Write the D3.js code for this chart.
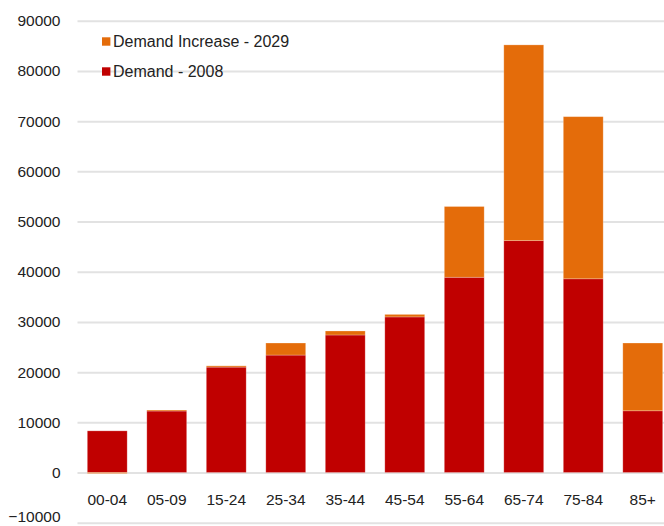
<!DOCTYPE html>
<html>
<head>
<meta charset="utf-8">
<script src="https://cdn.jsdelivr.net/npm/d3@7"></script>
<style>
  html, body { margin: 0; padding: 0; background: #fff; }
  svg { display: block; font-family: "Liberation Sans", Arial, sans-serif; }
</style>
</head>
<body>
<svg id="chart" width="664" height="526"></svg>
<script>
// Age groups along the x axis
const categories = ["00-04", "05-09", "15-24", "25-34", "35-44", "45-54", "55-64", "65-74", "75-84", "85+"];
// Demand in 2008 per age group
const demand2008 = [8300, 12250, 21000, 23400, 27400, 31000, 38900, 46200, 38600, 12300];
// Change in demand by 2029 per age group
const increase2029 = [-200, 200, 250, 2400, 800, 500, 14100, 39000, 32300, 13500];
// Value axis ticks
const yTicks = [-10000, 0, 10000, 20000, 30000, 40000, 50000, 60000, 70000, 80000, 90000];

const seriesNames = ["Demand - 2008", "Demand Increase - 2029"];
const colors = { "Demand - 2008": "#C00000", "Demand Increase - 2029": "#E46C0A" };

const rows = categories.map((c, i) => ({
  cat: c,
  "Demand - 2008": demand2008[i],
  "Demand Increase - 2029": increase2029[i]
}));

const svg = d3.select("#chart");

const y = d3.scaleLinear().domain([-10000, 90000]).range([522.7, 20.8]);
const x = d3.scaleBand().domain(categories).range([77.5, 672.5])
  .paddingInner(0.33).paddingOuter(0.165);

// Horizontal gridlines with tick labels
const yAxis = svg.append("g")
  .attr("transform", "translate(77.5,0)")
  .call(d3.axisLeft(y).tickValues(yTicks).tickFormat(d3.format("d"))
    .tickSize(-600).tickPadding(17));
yAxis.select(".domain").remove();
yAxis.selectAll(".tick line").attr("stroke", "#e2e2e2").attr("stroke-width", 2);
yAxis.selectAll(".tick text")
  .attr("fill", "#222").attr("font-size", "15.5px")
  .attr("font-family", "Liberation Sans, Arial, sans-serif");
// Keep the lowest label inside the bottom edge of the frame
yAxis.selectAll(".tick text").filter(d => d === -10000).attr("y", -6);

// Stacked columns (negative values stack below zero)
const stack = d3.stack().keys(seriesNames).offset(d3.stackOffsetDiverging);
const layers = stack(rows);

svg.append("g").selectAll("g")
  .data(layers)
  .join("g")
  .attr("fill", d => colors[d.key])
  .selectAll("rect")
  .data(d => d)
  .join("rect")
  .attr("x", d => x(d.data.cat))
  .attr("width", x.bandwidth())
  .attr("y", d => y(Math.max(d[0], d[1])))
  .attr("height", d => Math.max(1, Math.abs(y(d[0]) - y(d[1]))))
  .attr("stroke", "rgba(255,255,255,0.3)")
  .attr("stroke-width", 0.8);

// Category labels
svg.append("g").selectAll("text")
  .data(categories)
  .join("text")
  .attr("x", d => x(d) + x.bandwidth() / 2)
  .attr("y", 505)
  .attr("text-anchor", "middle")
  .attr("fill", "#222")
  .attr("font-size", "15.5px")
  .text(d => d);

// Legend
const legendItems = ["Demand Increase - 2029", "Demand - 2008"];
const legend = svg.append("g").selectAll("g")
  .data(legendItems)
  .join("g")
  .attr("transform", (d, i) => `translate(102,${41.5 + i * 30})`);
legend.append("rect")
  .attr("x", 0).attr("y", -4.2).attr("width", 8.4).attr("height", 8.4)
  .attr("fill", d => colors[d]);
legend.append("text")
  .attr("x", 11).attr("y", 0).attr("dy", "0.35em")
  .attr("fill", "#222").attr("font-size", "16px")
  .text(d => d);
</script>
</body>
</html>
